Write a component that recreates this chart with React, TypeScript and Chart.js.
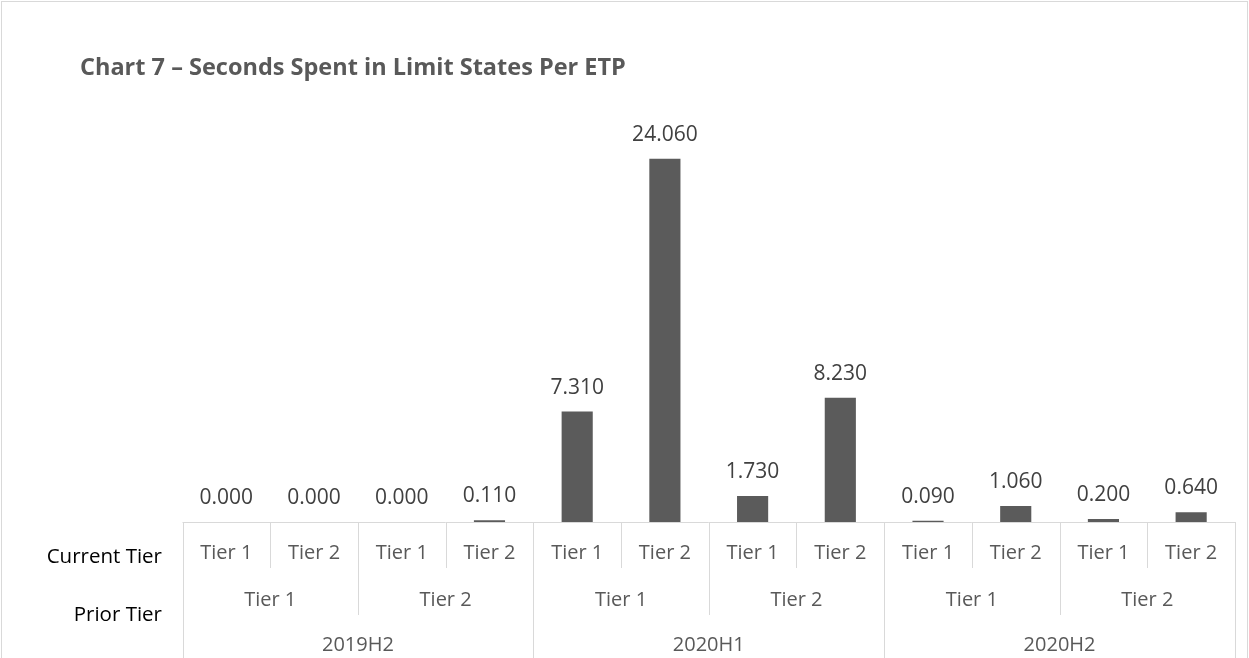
import React, { useEffect, useRef } from "react";
import { Chart, registerables } from "chart.js";

Chart.register(...registerables);

const title = "Chart 7 – Seconds Spent in Limit States Per ETP";
const periods = ["2019H2", "2020H1", "2020H2"];
const priorTiers = ["Tier 1", "Tier 2"];
const currentTiers = ["Tier 1", "Tier 2"];
const rowLabels = ["Current Tier", "Prior Tier"];
const values = [0.0, 0.0, 0.0, 0.11, 7.31, 24.06, 1.73, 8.23, 0.09, 1.06, 0.2, 0.64];

const categories: { period: string; prior: string; current: string }[] = [];
periods.forEach((p) =>
  priorTiers.forEach((pr) =>
    currentTiers.forEach((c) => categories.push({ period: p, prior: pr, current: c }))
  )
);
const labels = categories.map((c) => `${c.period} ${c.prior} ${c.current}`);

const FONT = '"Open Sans", "DejaVu Sans", sans-serif';
const GRID = "#d9d9d9";
const TEXT = "#595959";

const multiAxisPlugin = {
  id: "multiAxis",
  afterDraw(chart: any) {
    const ctx = chart.ctx as CanvasRenderingContext2D;
    const xs = chart.scales.x;
    const area = chart.chartArea;
    const n = labels.length;
    const step = xs.getPixelForValue(1) - xs.getPixelForValue(0);
    const edge = (i: number) => xs.getPixelForValue(0) - step / 2 + i * step;
    const base = area.bottom;
    ctx.save();
    // outer frame
    ctx.strokeStyle = GRID;
    ctx.lineWidth = 1;
    ctx.strokeRect(1.5, 1.5, chart.width - 3, chart.height + 20);
    // title
    ctx.fillStyle = TEXT;
    ctx.font = `bold 23.5px ${FONT}`;
    ctx.textAlign = "left";
    ctx.textBaseline = "alphabetic";
    ctx.fillText(title, 80, 75);
    // axis lines
    ctx.strokeStyle = GRID;
    ctx.beginPath();
    ctx.moveTo(edge(0), Math.round(base) + 0.5);
    ctx.lineTo(edge(n), Math.round(base) + 0.5);
    for (let i = 0; i <= n; i++) {
      let bottom = 568;
      if (i % 4 === 0) bottom = chart.height;
      else if (i % 2 === 0) bottom = 615;
      const x = Math.round(edge(i)) + 0.5;
      ctx.moveTo(x, base);
      ctx.lineTo(x, bottom);
    }
    ctx.stroke();
    // labels
    ctx.fillStyle = TEXT;
    ctx.font = `20px ${FONT}`;
    ctx.textAlign = "center";
    ctx.textBaseline = "middle";
    categories.forEach((c, i) => {
      ctx.fillText(c.current, xs.getPixelForValue(i), 553);
    });
    for (let g = 0; g < n / 2; g++) {
      const cx = (edge(g * 2) + edge(g * 2 + 2)) / 2;
      ctx.fillText(categories[g * 2].prior, cx, 600);
    }
    for (let g = 0; g < n / 4; g++) {
      const cx = (edge(g * 4) + edge(g * 4 + 4)) / 2;
      ctx.fillText(categories[g * 4].period, cx, 645);
    }
    ctx.fillStyle = "#000000";
    ctx.textAlign = "right";
    ctx.font = `20.5px ${FONT}`;
    ctx.fillText(rowLabels[0], 162, 557);
    ctx.fillText(rowLabels[1], 162, 615);
    // data labels
    const meta = chart.getDatasetMeta(0);
    ctx.fillStyle = "#404040";
    ctx.font = `21px ${FONT}`;
    ctx.textAlign = "center";
    ctx.textBaseline = "alphabetic";
    meta.data.forEach((bar: any, i: number) => {
      ctx.fillText(values[i].toFixed(3), bar.x, bar.y - 18);
    });
    ctx.restore();
  },
};

export default function App() {
  const ref = useRef<HTMLCanvasElement>(null);
  useEffect(() => {
    document.body.style.margin = "0";
    let chart: Chart | null = null;
    let cancelled = false;
    const make = () => {
      if (cancelled || !ref.current) return;
      chart = new Chart(ref.current, {
        type: "bar",
        data: {
          labels,
          datasets: [
            {
              data: values,
              backgroundColor: "#5b5b5b",
              borderWidth: 0,
              categoryPercentage: 1,
              barPercentage: 0.355,
            },
          ],
        },
        options: {
          animation: false,
          responsive: false,
          maintainAspectRatio: false,
          layout: { padding: { left: 182.5, right: 14, top: 69, bottom: 136 } },
          plugins: { legend: { display: false }, tooltip: { enabled: false }, title: { display: false } },
          scales: {
            x: { display: false, offset: true, grid: { display: false } },
            y: { display: false, min: 0, max: 30 },
          },
        },
        plugins: [multiAxisPlugin],
      });
    };
    const fonts: any = (document as any).fonts;
    if (fonts && fonts.load) {
      Promise.all([fonts.load(`21px "Open Sans"`), fonts.load(`bold 21px "Open Sans"`)])
        .catch(() => {})
        .then(make);
    } else make();
    return () => {
      cancelled = true;
      if (chart) chart.destroy();
    };
  }, []);
  return (
    <div style={{ width: 1249, height: 658, background: "#ffffff" }}>
      <canvas ref={ref} width={1249} height={658} style={{ display: "block" }} />
    </div>
  );
}
